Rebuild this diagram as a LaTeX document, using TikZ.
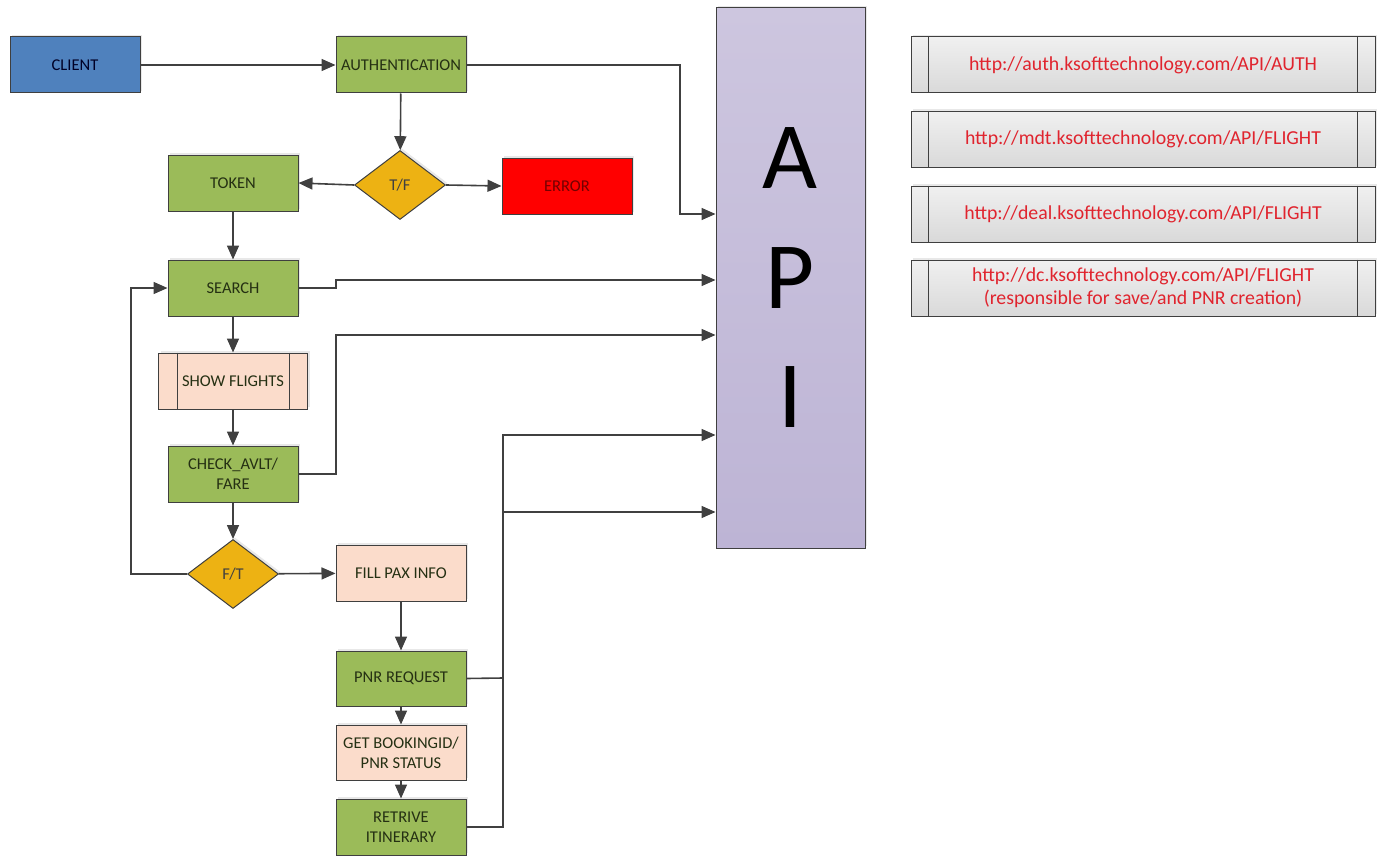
\documentclass[tikz,border=0pt]{standalone}
\usepackage{fontspec}
\setmainfont{Carlito}
\usetikzlibrary{arrows.meta,shapes.geometric,shadows}
\definecolor{lineC}{HTML}{404040}
\definecolor{bordC}{HTML}{3F3F3F}
\definecolor{greenF}{HTML}{9BBB59}
\definecolor{blueF}{HTML}{4F81BD}
\definecolor{goldF}{HTML}{EDB213}
\definecolor{redF}{HTML}{FF0000}
\definecolor{peachF}{HTML}{FBDCCB}
\definecolor{apiTop}{HTML}{CDC6DF}
\definecolor{apiBot}{HTML}{BDB4D5}
\definecolor{urlTop}{HTML}{F0F0F0}
\definecolor{urlBot}{HTML}{D9D9D9}
\definecolor{urlTxt}{HTML}{E0242E}
\definecolor{txtC}{HTML}{253013}
\tikzset{
  shd/.style={drop shadow={opacity=0.18,shadow xshift=2pt,shadow yshift=2pt}},
  boxbase/.style={draw=bordC,line width=1pt,align=center,inner sep=2pt,
    font=\fontsize{16.5}{20}\selectfont,text=txtC,shd},
  gbox/.style={boxbase,fill=greenF,minimum width=130,minimum height=56},
  pbox/.style={boxbase,fill=peachF,minimum width=130,minimum height=56},
  dia/.style={boxbase,diamond,fill=goldF,minimum width=91,minimum height=69,inner sep=0pt,text=black!75},
  urlbox/.style={draw=bordC,line width=1pt,top color=urlTop,bottom color=urlBot,
    minimum width=464,minimum height=56,align=center,text=urlTxt,
    font=\fontsize{19.8}{24}\selectfont,shd},
  conn/.style={draw=lineC,line width=1.6pt,-{Triangle[length=14pt,width=12pt]}},
  letter/.style={font=\fontsize{95}{95}\selectfont,anchor=base,text=black,inner sep=0pt}
}
\begin{document}
\begin{tikzpicture}[x=1pt,y=-1pt]
\useasboundingbox (0,0) rectangle (1381,856);
% nodes
\node[boxbase,fill=blueF,minimum width=130,minimum height=56,text=black!85!blue] (client) at (75,65) {CLIENT};
\node[gbox] (auth) at (401,65) {AUTHENTICATION};
\node[dia] (tf) at (400,185) {T/F};
\node[gbox] (token) at (233,183) {TOKEN};
\node[boxbase,fill=redF,minimum width=130,minimum height=56,text=red!45!black] (error) at (567,186) {ERROR};
\node[gbox] (search) at (233,288) {SEARCH};
\node[pbox,minimum width=149,minimum height=56] (show) at (233,381) {SHOW FLIGHTS};
\node[gbox] (check) at (233,474) {CHECK\_AVLT/\\FARE};
\node[dia] (ft) at (233,574) {F/T};
\node[pbox] (fill) at (401,573) {FILL PAX INFO};
\node[gbox,minimum height=55] (pnr) at (401,678.5) {PNR REQUEST};
\node[pbox,minimum height=55] (get) at (401,752.5) {GET BOOKINGID/\\PNR STATUS};
\node[gbox] (ret) at (401,827) {RETRIVE\\ITINERARY};
% API box
\node[draw=bordC,line width=1pt,top color=apiTop,bottom color=apiBot,minimum width=149,minimum height=540,inner sep=0pt,shd] (api) at (790.5,278) {};
\node[letter] (la) at (790,188) {A};
\node[letter] (lp) at (790,308) {P};
\node[letter] (li) at (790,427) {I};
% inner lines of show flights
\draw[bordC,line width=1pt] ([xshift=19pt]show.north west) -- ([xshift=19pt]show.south west);
\draw[bordC,line width=1pt] ([xshift=-19pt]show.north east) -- ([xshift=-19pt]show.south east);
% URL boxes
\node[urlbox] (u1) at (1143,65) {http://auth.ksofttechnology.com/API/AUTH};
\node[urlbox] (u2) at (1143,139.5) {http://mdt.ksofttechnology.com/API/FLIGHT};
\node[urlbox] (u3) at (1143,214) {http://deal.ksofttechnology.com/API/FLIGHT};
\node[urlbox,font=\fontsize{19.8}{23}\selectfont] (u4) at (1143,288) {http://dc.ksofttechnology.com/API/FLIGHT\\(responsible for save/and PNR creation)};
\foreach \u in {u1,u2,u3,u4}{
  \draw[bordC,line width=1pt] ([xshift=18pt]\u.north west) -- ([xshift=18pt]\u.south west);
  \draw[bordC,line width=1pt] ([xshift=-18pt]\u.north east) -- ([xshift=-18pt]\u.south east);
}
% coordinates
\coordinate (apiA) at (api.west |- 0,214);
\coordinate (apiB) at (api.west |- 0,280);
\coordinate (apiC) at (api.west |- 0,335);
\coordinate (apiD) at (api.west |- 0,435);
\coordinate (apiE) at (api.west |- 0,512);
% connectors
\draw[conn] (client) -- (auth);
\draw[conn] (auth.east) -- (680,65) -- (680,214) -- (apiA);
\draw[conn] (auth) -- (tf);
\draw[conn] (tf.west) -- (token.east);
\draw[conn] (tf.east) -- (error.west);
\draw[conn] (token) -- (search);
\draw[conn] (search.east) -- (336,288) -- (336,280) -- (apiB);
\draw[conn] (search) -- (show);
\draw[conn] (show) -- (check);
\draw[conn] (check.east) -- (336,474) -- (336,335) -- (apiC);
\draw[conn] (check) -- (ft);
\draw[conn] (ft) -- (fill);
\draw[conn] (ft.west) -- (131,574) -- (131,288) -- (search.west);
\draw[conn] (fill) -- (pnr);
\draw[conn] (pnr) -- (get);
\draw[conn] (get) -- (ret);
\draw[conn] (pnr.east) -- (503,678) -- (503,512) -- (apiE);
\draw[conn] (ret.east) -- (503,827) -- (503,435) -- (apiD);
\end{tikzpicture}
\end{document}
